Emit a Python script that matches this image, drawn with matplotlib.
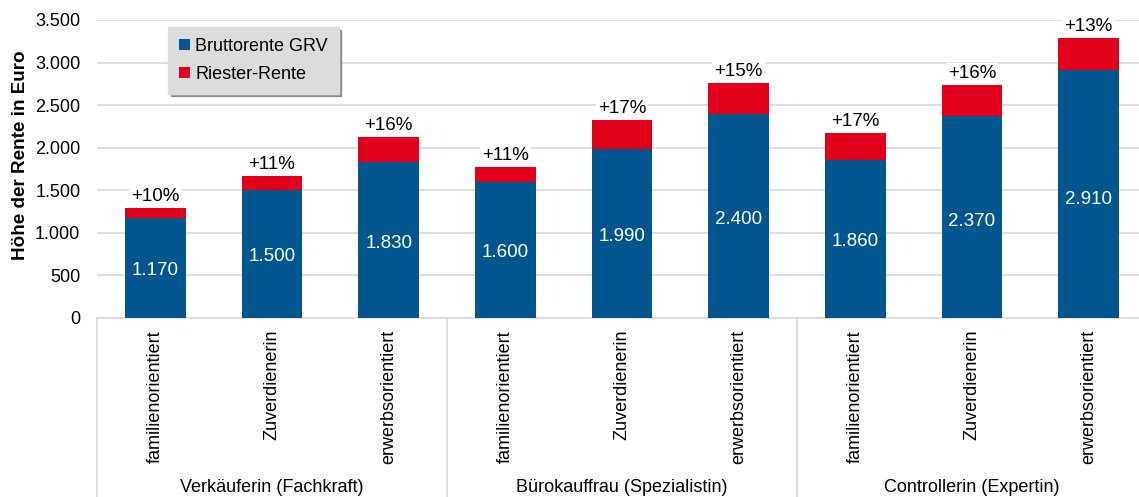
import matplotlib
matplotlib.use("Agg")
import matplotlib.pyplot as plt
from matplotlib.lines import Line2D
import matplotlib.transforms as mtransforms

plt.rcParams['font.family'] = ['Liberation Sans', 'DejaVu Sans']

groups = ["Verkäuferin (Fachkraft)", "Bürokauffrau (Spezialistin)", "Controllerin (Expertin)"]
types = ["familienorientiert", "Zuverdienerin", "erwerbsorientiert"]
grv = [1170, 1500, 1830, 1600, 1990, 2400, 1860, 2370, 2910]
riester = [120, 165, 295, 178, 335, 360, 310, 370, 380]
pct_labels = ["+10%", "+11%", "+16%", "+11%", "+17%", "+15%", "+17%", "+16%", "+13%"]
yticks = [0, 500, 1000, 1500, 2000, 2500, 3000, 3500]
ytick_labels = ["0", "500", "1.000", "1.500", "2.000", "2.500", "3.000", "3.500"]

BLUE = "#00578f"
RED = "#e2001a"
GRID = "#d9d9d9"

W, H = 1139, 497
fig = plt.figure(figsize=(W / 100, H / 100), dpi=100)
left, right, bottom, top = 97, 1147, 318, 20
ax = fig.add_axes([left / W, (H - bottom) / H, (right - left) / W, (bottom - top) / H])

n = len(grv)
x = [i + 0.5 for i in range(n)]
bw = 0.52
ax.bar(x, grv, width=bw, color=BLUE, label="Bruttorente GRV", zorder=3)
ax.bar(x, riester, bottom=grv, width=bw, color=RED, label="Riester-Rente", zorder=3)

ax.set_xlim(0, n)
ax.set_ylim(0, 3500)
ax.set_yticks(yticks)
ax.set_yticklabels(ytick_labels, fontsize=13)
ax.set_xticks([])
ax.tick_params(axis='y', length=0, pad=12)
ax.grid(axis='y', color=GRID, linewidth=1.2, zorder=0)
for s in ["top", "right", "left"]:
    ax.spines[s].set_visible(False)
ax.spines["bottom"].set_color(GRID)
ax.spines["bottom"].set_linewidth(1.2)
ax.set_ylabel("Höhe der Rente in Euro", fontsize=13.6, fontweight='bold')
ax.yaxis.set_label_coords(-0.065, 0.547)

for xi, g, r, p in zip(x, grv, riester, pct_labels):
    ax.text(xi, g * 0.48, f"{g:,}".replace(",", "."), ha='center', va='center',
            color='white', fontsize=13.5, zorder=4)
    ax.annotate(p, (xi, g + r), xytext=(0, 2), textcoords='offset points',
                ha='center', va='bottom', fontsize=13.5, zorder=5,
                bbox=dict(boxstyle='square,pad=0.12', fc='white', ec='none'))

trans = mtransforms.blended_transform_factory(ax.transData, ax.transAxes)
for i, xi in enumerate(x):
    ax.text(xi, -0.04, types[i % 3], rotation=90, ha='center', va='top',
            fontsize=13, transform=trans, clip_on=False)
for gi, g in enumerate(groups):
    ax.text(gi * 3 + 1.5, -0.57, g, ha='center', va='center', fontsize=13,
            transform=trans, clip_on=False)
for k in range(4):
    ax.add_line(Line2D([k * 3, k * 3], [0, -0.62], transform=trans, color=GRID,
                       linewidth=1.2, clip_on=False))

leg = ax.legend(loc='upper left', bbox_to_anchor=(0.0676, 0.9765), borderaxespad=0,
                fontsize=13, frameon=True, fancybox=False, shadow=True,
                handlelength=0.6, handleheight=0.6, handletextpad=0.3,
                labelspacing=0.6, borderpad=0.6)
leg.get_frame().set_facecolor("#dcdcdc")
leg.get_frame().set_edgecolor("#dcdcdc")
leg.get_frame().set_alpha(1)

fig.savefig("out.png", dpi=100)
